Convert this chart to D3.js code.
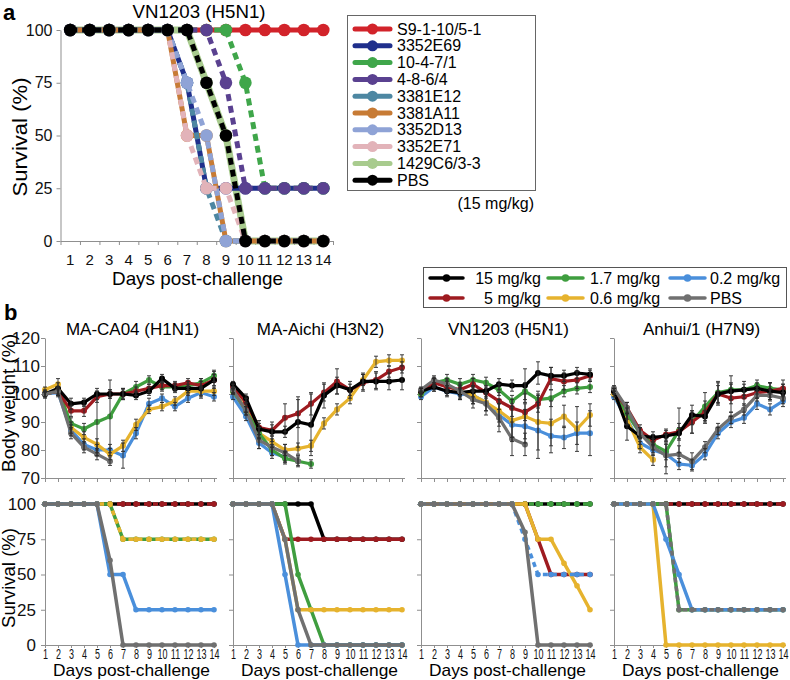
<!DOCTYPE html>
<html><head><meta charset="utf-8">
<script src="https://cdn.jsdelivr.net/npm/d3@7"></script>
<style>body{margin:0;background:#fff} svg{display:block} text{font-family:"Liberation Sans",Arial,Helvetica,sans-serif}</style>
</head><body><svg id="c" width="790" height="680"></svg>
<script>
// ---------------- DATA ----------------
const days = d3.range(1, 15);

// Panel a: VN1203 (H5N1) survival, 15 mg/kg
const aLabels = ["S9-1-10/5-1","3352E69","10-4-7/1","4-8-6/4","3381E12","3381A11","3352D13","3352E71","1429C6/3-3","PBS"];
const aS9      = [100,100,100,100,100,100,100,100,100,100,100,100,100,100];
const a3352E69 = [100,100,100,100,100,100,75,25,25,25,25,25,25,25];
const a1047    = [100,100,100,100,100,100,100,100,100,75,25,25,25,25];
const a4864    = [100,100,100,100,100,100,100,100,75,25,25,25,25,25];
const a3381E12 = [100,100,100,100,100,100,75,25,0,0,0,0,0,0];
const a3381A11 = [100,100,100,100,100,100,50,50,0,0,0,0,0,0];
const a3352D13 = [100,100,100,100,100,100,75,50,0,0,0,0,0,0];
const a3352E71 = [100,100,100,100,100,100,50,25,25,0,0,0,0,0];
const a1429C6  = [100,100,100,100,100,100,100,75,50,0,0,0,0,0];
const aPBS     = [100,100,100,100,100,100,100,75,50,0,0,0,0,0];
const aTicks = [0,25,50,75,100];

// Panel b
const strains = ["MA-CA04 (H1N1)","MA-Aichi (H3N2)","VN1203 (H5N1)","Anhui/1 (H7N9)"];
const doses = ["15 mg/kg","5 mg/kg","1.7 mg/kg","0.6 mg/kg","0.2 mg/kg","PBS"];
const bwTicks = [70,80,90,100,110,120];
const svTicks = [0,25,50,75,100];
const N = null;

// body weight (%) per dose: 15, 5, 1.7, 0.6, 0.2, PBS
const bwCA04 = [
  [100,102,96.5,97,100,100,100,99.5,101,105.5,102,102,102,105],
  [100,101,94,94,99,100,100,101,102,103,103,104,103,105],
  [100,101,89.5,87.5,90,92,100,102.5,105,102.5,102.5,103,104,106.5],
  [101.5,103.5,88,84.5,82,78.5,81.5,89,94.5,95.5,97.5,101,101,101],
  [100,100.5,87,82,80,80,78,86,96.5,98.5,95.5,98.5,100.5,99],
  [100,101,86,81,78.5,76,N,N,N,N,N,N,N,N]];
const errCA04 = [
  [1.5,2,2,1.5,2,1.5,2,1.5,1.5,1.5,1.5,1.5,3.5,3],
  [1,1.5,2,2,2,1.5,1.5,1.5,1.5,1.5,1.5,1.5,1.5,2],
  [1,1.5,2,2,11,13,2,2,1.5,1.5,1.5,1.5,1.5,2],
  [1,2,2,2,2,2,2,2,1.5,1.5,1.5,1.5,1.5,1.5],
  [1,1.5,2,2,2,2,4.5,2,2,1.5,1.5,1.5,1.5,1.5],
  [1,1.5,2,2,2,1.5,N,N,N,N,N,N,N,N]];
const bwAichi = [
  [103.5,98.5,87.5,86.5,86.5,90,89,99.5,103,101.5,104.5,104.5,104.5,105],
  [102.5,97,88,87,91.5,93,96.5,100.5,104.5,101.5,104,105,108,109.5],
  [101,94,86,80,77,76,75,N,N,N,N,N,N,N],
  [101,95,86,83,80,80.5,81.5,89.5,94.5,98.5,105,111.5,112,112],
  [99,92,82.5,79,77.5,N,N,N,N,N,N,N,N,N],
  [101.5,94,83.5,81,79,76,N,N,N,N,N,N,N,N]];
const errAichi = [
  [1,1.5,2,3.5,2,9,11,4.5,3,2,3,3,3,3.5],
  [1,1.5,2.5,2,5,5,4,3,4.5,3,3,3,2,2],
  [1,1.5,2,2,2,1.5,1.5,N,N,N,N,N,N,N],
  [1,1.5,2,2,2,2,2,2,2,2,2,2,2,2],
  [1,1.5,2,2,2,N,N,N,N,N,N,N,N,N],
  [1,1.5,3,3,3,2,N,N,N,N,N,N,N,N]];
const bwVN = [
  [101,102.5,101,100.5,101,101,103.5,103,103,107.5,106.5,106.5,107.5,107],
  [101,104,102.5,101.5,103.5,100.5,97.5,95,93.5,96.5,105.5,104.5,105,106.5],
  [100,104,105,103.5,105,104,101.5,97.5,101,98,98.5,101,102,102.5],
  [100,104.5,103,101,99.5,97,94,90.5,92,90,89.5,92,87.5,92.5],
  [99,102.5,101,100,99.5,97,92.5,89,88.5,87,85,84.5,86,86],
  [101.5,105,103.5,101,98,96.5,91.5,84,82,N,N,N,N,N]];
const errVN = [
  [1,1.5,1.5,2,2,2,2,2,6,4,3,2,2,2],
  [1,1.5,2,2,2,2,3,3,3,3,4,3,3,2],
  [1,1.5,2,2,2,2,2,2,3,3,3,2,2,2],
  [1,1.5,2,3,3,3,4,6,8,10,8,4,8,4],
  [1,1.5,2,2,3,3,4,6,6,10,6,4,4,8],
  [1,1.5,2,2,3,4,5,6,4,N,N,N,N,N]];
const bwAnhui = [
  [101,88.5,85,84.5,85,86,92.5,92,100,101,101.5,102,101,100.5],
  [101,95,87,83.5,85.5,86.5,90,93.5,100,98.5,99,100.5,101,102],
  [101,93,86,82,79.5,87,90,95.5,100.5,101.5,101.5,103,102,101.5],
  [100,91,81,76.5,N,N,N,N,N,N,N,N,N,N],
  [99,91,82.5,80,78.5,75,74.5,78.5,86,90,91.5,96.5,94.5,97.5],
  [102,95,86,81,78,78.5,76,81,87.5,91.5,94.5,99.5,99.5,98.5]];
const errAnhui = [
  [1,5,3,2,2,2,3.5,2,3,3,2,2,3,3],
  [1,2,2,2,2,3,4,4,4,5,3,2,3,3],
  [1,2,2,2,3,8,4,5,4,5,3,2,2,2],
  [1,2,2,2,N,N,N,N,N,N,N,N,N,N],
  [1,2,2,2,7,2,2,2,2,2,2,2,2,2],
  [1,2,2,2,4,3,3,2,2,2,2,2,2,2]];

// survival (%) per dose
const svCA04 = [
  [100,100,100,100,100,100,100,100,100,100,100,100,100,100],
  [100,100,100,100,100,100,100,100,100,100,100,100,100,100],
  [100,100,100,100,100,100,75,75,75,75,75,75,75,75],
  [100,100,100,100,100,100,75,75,75,75,75,75,75,75],
  [100,100,100,100,100,50,50,25,25,25,25,25,25,25],
  [100,100,100,100,100,60,0,0,0,0,0,0,0,0]];
const svAichi = [
  [100,100,100,100,100,100,100,75,75,75,75,75,75,75],
  [100,100,100,100,75,75,75,75,75,75,75,75,75,75],
  [100,100,100,100,100,50,25,0,0,0,0,0,0,0],
  [100,100,100,100,75,25,25,25,25,25,25,25,25,25],
  [100,100,100,100,50,0,0,0,0,0,0,0,0,0],
  [100,100,100,100,75,25,0,0,0,0,0,0,0,0]];
const svVN = [
  [100,100,100,100,100,100,100,100,100,100,100,100,100,100],
  [100,100,100,100,100,100,100,100,100,75,50,50,50,50],
  [100,100,100,100,100,100,100,100,100,100,100,100,100,100],
  [100,100,100,100,100,100,100,100,100,75,75,58,42,25],
  [100,100,100,100,100,100,100,100,75,50,50,50,50,50],
  [100,100,100,100,100,100,100,100,80,0,0,0,0,0]];
const svAnhui = [
  [100,100,100,100,100,100,100,100,100,100,100,100,100,100],
  [100,100,100,100,100,100,100,100,100,100,100,100,100,100],
  [100,100,100,100,100,25,25,25,25,25,25,25,25,25],
  [100,100,100,100,0,0,0,0,0,0,0,0,0,0],
  [100,100,100,100,75,50,25,25,25,25,25,25,25,25],
  [100,100,100,100,100,25,25,25,25,25,25,25,25,25]];

// ---------------- STYLE ----------------
const aColors = ["#d2232a","#1f2f8c","#3fa64a","#5a4190","#4d87a2","#c77b35","#8fa3d6","#e2b3b9","#a8cb8e","#000000"];
const aDashed = [false,false,true,true,true,false,true,true,false,true];
const aOrder = [0,8,1,5,4,6,7,2,3,9];
const doseColors = ["#000000","#9e1b20","#3f9e3f","#e6b32e","#4a8fdb","#707070"];
const svDashed = [[1,3],[],[2,4],[1,5]];
const bwOrder = [4,3,2,1,0,5];
const AX = "#8f8f8f";

const bwAll = [bwCA04, bwAichi, bwVN, bwAnhui];
const errAll = [errCA04, errAichi, errVN, errAnhui];
const svAll = [svCA04, svAichi, svVN, svAnhui];
const aData = [aS9, a3352E69, a1047, a4864, a3381E12, a3381A11, a3352D13, a3352E71, a1429C6, aPBS];

const svg = d3.select("#c");
function styleAxis(g){
  g.selectAll("path.domain").attr("stroke", AX).attr("stroke-width",1);
  g.selectAll(".tick line").attr("stroke", AX);
  g.selectAll("text").attr("fill","#111").attr("font-family",null);
}

// ---------------- PANEL A ----------------
const xA = d3.scaleBand().domain(days).range([60.5, 333]);
const xAc = d => xA(d) + xA.bandwidth()/2;
const yA = d3.scaleLinear().domain([0,100]).range([241,30]);
const gA = svg.append("g");
gA.append("g").attr("transform","translate(60.5,0)")
  .call(d3.axisLeft(yA).tickValues(aTicks).tickSize(4).tickSizeOuter(0).tickPadding(4))
  .call(styleAxis).selectAll("text").style("font-size","16px");
const xAb = d3.scaleLinear().domain([0.5,14.5]).range([60.5,333]);
gA.append("g").attr("transform","translate(0,241)")
  .call(d3.axisBottom(xAb).tickValues(d3.range(0.5,14.6,1)).tickSize(4).tickSizeOuter(0).tickFormat(""))
  .call(styleAxis);
gA.append("g").attr("transform","translate(0,241)")
  .call(d3.axisBottom(xA).tickSize(0).tickPadding(13.5))
  .call(g=>g.select(".domain").remove()).call(styleAxis)
  .selectAll("text").style("font-size","15px");

const lineA = d3.line().x((d,i)=>xAc(days[i])).y(d=>yA(d));
aOrder.forEach(k=>{
  const vals = aData[k];
  gA.append("path").datum(vals).attr("d",lineA).attr("fill","none")
    .attr("stroke",aColors[k]).attr("stroke-width", k===8?7:5)
    .attr("stroke-dasharray", aDashed[k]?"7,5":null);
  gA.append("g").selectAll("circle").data(vals).join("circle")
    .attr("cx",(d,i)=>xAc(days[i])).attr("cy",d=>yA(d)).attr("r",6.3).attr("fill",aColors[k]);
});
gA.append("text").attr("x",199).attr("y",18).attr("text-anchor","middle").style("font-size","19px")
  .attr("textLength",133).attr("lengthAdjust","spacingAndGlyphs").text("VN1203 (H5N1)");
gA.append("text").attr("x",3).attr("y",20).style("font-size","22px").style("font-weight","bold").text("a");
gA.append("text").attr("x",197.5).attr("y",285).attr("text-anchor","middle").style("font-size","19px")
  .attr("textLength",171).attr("lengthAdjust","spacingAndGlyphs").text("Days post-challenge");
gA.append("text").attr("transform","translate(26.5,137) rotate(-90)").attr("text-anchor","middle").style("font-size","20px")
  .attr("textLength",119).attr("lengthAdjust","spacingAndGlyphs").text("Survival (%)");

// legend a
const lgA = svg.append("g");
lgA.append("rect").attr("x",347.5).attr("y",15.5).attr("width",188).attr("height",175).attr("fill","#fff").attr("stroke","#666");
aLabels.forEach((lab,i)=>{
  const y = 29 + i*16.8;
  lgA.append("line").attr("x1",355).attr("x2",390).attr("y1",y).attr("y2",y).attr("stroke",aColors[i]).attr("stroke-width",5).attr("stroke-linecap","round");
  lgA.append("circle").attr("cx",372.5).attr("cy",y).attr("r",5.5).attr("fill",aColors[i]);
  lgA.append("text").attr("x",397).attr("y",y).attr("dy","0.35em").style("font-size","16px").text(lab);
});
lgA.append("text").attr("x",534).attr("y",203).attr("dy","0.35em").attr("text-anchor","end").style("font-size","16px").text("(15 mg/kg)");

// ---------------- PANEL B ----------------
svg.append("text").attr("x",4).attr("y",320).style("font-size","22px").style("font-weight","bold").text("b");
const colX = [45, 233, 421, 614];
const plotW = 169;
const yBW = d3.scaleLinear().domain([70,120]).range([478,338]);
const ySV = d3.scaleLinear().domain([0,100]).range([645,504]);

strains.forEach((s,c)=>{
  const x0 = colX[c];
  const x = d3.scaleLinear().domain([1,14]).range([x0, x0+plotW]);
  const g = svg.append("g");
  g.append("text").attr("x",x0+plotW/2+3).attr("y",335).attr("text-anchor","middle").style("font-size","17px").text(s);
  const yAx = g.append("g").attr("transform",`translate(${x0},0)`)
    .call(d3.axisLeft(yBW).tickValues(bwTicks).tickSize(4).tickSizeOuter(0).tickPadding(1).tickFormat(c===0?d3.format("d"):""))
    .call(styleAxis);
  yAx.selectAll("text").style("font-size","17px");
  g.append("g").attr("transform","translate(0,478)")
    .call(d3.axisBottom(x).tickValues(days).tickSize(4).tickSizeOuter(0).tickFormat(""))
    .call(styleAxis)
    .select(".domain").attr("d",`M${x0},0.5H${x0+plotW+3}`);
  const ySx = g.append("g").attr("transform",`translate(${x0},0)`)
    .call(d3.axisLeft(ySV).tickValues(svTicks).tickSize(4).tickSizeOuter(0).tickPadding(5).tickFormat(c===0?d3.format("d"):""))
    .call(styleAxis);
  ySx.selectAll("text").style("font-size","17px");
  const xs = g.append("g").attr("transform","translate(0,645)")
    .call(d3.axisBottom(x).tickValues(days).tickSize(3).tickSizeOuter(0))
    .call(styleAxis);
  xs.select(".domain").attr("d",`M${x0},0.5H${x0+plotW+3}`);
  xs.selectAll("text").attr("y",3).attr("transform","scale(0.6,1)").style("font-size","15px");
  g.append("text").attr("x",x0+plotW/2+2).attr("y",676).attr("text-anchor","middle").style("font-size","17px")
    .attr("textLength",157).attr("lengthAdjust","spacingAndGlyphs").text("Days post-challenge");

  const lineBW = d3.line().defined(d=>d!=null).x((d,i)=>x(days[i])).y(d=>yBW(d));
  bwOrder.forEach(k=>{
    const vals = bwAll[c][k];
    g.append("path").datum(vals).attr("d",lineBW).attr("fill","none").attr("stroke",doseColors[k]).attr("stroke-width",3.2);
    g.append("g").selectAll("circle").data(vals.map((v,i)=>({v,i})).filter(d=>d.v!=null)).join("circle")
      .attr("cx",d=>x(days[d.i])).attr("cy",d=>yBW(d.v)).attr("r",3).attr("fill",doseColors[k]);
  });
  const eg = g.append("g").attr("stroke","#2a2a2a").attr("stroke-width",0.9);
  bwAll[c].forEach((vals,k)=>{
    vals.forEach((v,i)=>{
      const e = errAll[c][k][i];
      if (v==null || e==null) return;
      const cx = x(days[i]);
      const y1 = yBW(v-e), y2 = yBW(v+e);
      eg.append("line").attr("x1",cx).attr("x2",cx).attr("y1",y1).attr("y2",y2);
      eg.append("line").attr("x1",cx-2).attr("x2",cx+2).attr("y1",y1).attr("y2",y1);
      eg.append("line").attr("x1",cx-2).attr("x2",cx+2).attr("y1",y2).attr("y2",y2);
    });
  });

  const lineSV = d3.line().x((d,i)=>x(days[i])).y(d=>ySV(d));
  [0,1,2,3,4,5].forEach(k=>{
    const vals = svAll[c][k];
    const dashed = svDashed[c].includes(k);
    g.append("path").datum(vals).attr("d",lineSV).attr("fill","none").attr("stroke",doseColors[k])
      .attr("stroke-width",3.5).attr("stroke-dasharray",dashed?"5,4":null);
    g.append("g").selectAll("circle").data(vals).join("circle")
      .attr("cx",(d,i)=>x(days[i])).attr("cy",d=>ySV(d)).attr("r",2.8).attr("fill",doseColors[k]);
  });
});

svg.append("text").attr("transform","translate(15,403) rotate(-90)").attr("text-anchor","middle").style("font-size","18px")
  .attr("textLength",138).attr("lengthAdjust","spacingAndGlyphs").text("Body weight (%)");
svg.append("text").attr("transform","translate(15,578) rotate(-90)").attr("text-anchor","middle").style("font-size","18px")
  .attr("textLength",100).attr("lengthAdjust","spacingAndGlyphs").text("Survival (%)");

// legend b
const lgB = svg.append("g");
lgB.append("rect").attr("x",423.5).attr("y",267.5).attr("width",363).attr("height",40).attr("fill","#fff").attr("stroke","#555");
const lgCols = [{x1:430,x2:463,tx:541,anchor:"end"},{x1:548,x2:583,tx:590,anchor:"start"},{x1:670,x2:705,tx:710,anchor:"start"}];
doses.forEach((d,i)=>{
  const col = lgCols[Math.floor(i/2)];
  const y = i%2===0 ? 278 : 298;
  lgB.append("line").attr("x1",col.x1).attr("x2",col.x2).attr("y1",y).attr("y2",y).attr("stroke",doseColors[i]).attr("stroke-width",3.5).attr("stroke-linecap","round");
  lgB.append("circle").attr("cx",(col.x1+col.x2)/2).attr("cy",y).attr("r",3.8).attr("fill",doseColors[i]);
  lgB.append("text").attr("x",col.tx).attr("y",y).attr("dy","0.35em").attr("text-anchor",col.anchor).style("font-size","16px").text(d);
});
</script></body></html>
